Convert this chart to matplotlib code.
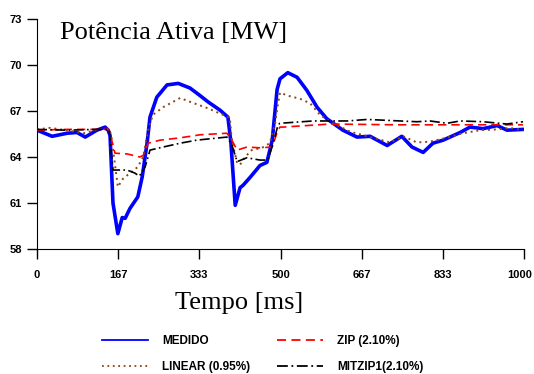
import numpy as np
import matplotlib
matplotlib.use("Agg")
import matplotlib.pyplot as plt
import matplotlib.transforms as mtransforms

# Medido
t_med = [0, 31, 62, 82, 99, 123, 140, 146, 150, 156, 166, 175, 181, 191, 207, 216, 226, 232,
         246, 267, 290, 314, 335, 351, 376, 392, 398, 407, 417, 423, 437, 458, 472, 483, 493,
         499, 515, 534, 554, 575, 595, 628, 657, 684, 719, 749, 770, 793, 813, 834, 869, 889,
         916, 945, 965, 998]
p_med = [65.75, 65.35, 65.55, 65.6, 65.3, 65.75, 65.95, 65.75, 65.4, 61.0, 59.0, 60.05, 60.0,
         60.65, 61.4, 62.7, 64.9, 66.6, 67.9, 68.7, 68.8, 68.5, 68.0, 67.6, 67.05, 66.6, 65.0,
         60.85, 62.0, 62.15, 62.65, 63.45, 63.65, 65.1, 68.4, 69.1, 69.5, 69.2, 68.35, 67.25,
         66.5, 65.75, 65.3, 65.35, 64.75, 65.35, 64.65, 64.3, 64.9, 65.1, 65.6, 65.95, 65.85,
         66.05, 65.75, 65.8]

# Linear
t_lin = [0, 27, 60, 96, 125, 146, 152, 166, 177, 191, 207, 218, 228, 238, 259, 294, 314, 349,
         382, 396, 400, 411, 417, 427, 441, 462, 478, 489, 495, 499, 515, 540, 561, 581, 602,
         643, 684, 725, 752, 780, 807, 834, 875, 910, 945, 971, 998]
p_lin = [65.8, 65.9, 65.75, 65.55, 65.8, 65.85, 65.5, 62.05, 62.6, 62.95, 63.35, 64.0, 65.75,
         66.75, 67.25, 67.85, 67.6, 67.2, 66.75, 66.55, 65.1, 63.6, 63.5, 64.0, 64.45, 64.6,
         64.9, 66.2, 67.5, 68.2, 68.0, 67.8, 67.5, 66.75, 66.3, 65.65, 65.3, 64.95, 65.35,
         64.95, 65.0, 65.2, 65.55, 65.75, 65.8, 65.9, 65.75]

# ZIP
t_zip = [0, 60, 120, 148, 160, 185, 211, 218, 228, 253, 294, 335, 390, 400, 411, 431, 458,
         483, 493, 499, 505, 602, 739, 807, 875, 998]
p_zip = [65.75, 65.8, 65.8, 65.8, 64.25, 64.2, 64.0, 64.1, 64.9, 65.1, 65.25, 65.45, 65.55,
         65.1, 64.45, 64.65, 64.6, 64.65, 65.6, 65.95, 65.95, 66.15, 66.1, 66.1, 66.1, 66.1]

# MITZIP1
t_mit = [0, 60, 120, 148, 156, 185, 201, 210, 222, 232, 259, 294, 328, 390, 400, 411, 431,
         458, 474, 485, 495, 499, 567, 637, 678, 780, 807, 842, 869, 916, 965, 998]
p_mit = [65.8, 65.75, 65.8, 65.8, 63.15, 63.15, 62.95, 62.75, 63.35, 64.45, 64.65, 64.9,
         65.1, 65.3, 64.8, 63.7, 63.95, 63.8, 63.8, 64.9, 66.1, 66.2, 66.35, 66.35, 66.45,
         66.3, 66.35, 66.2, 66.35, 66.3, 66.15, 66.3]

xticks = [0, 167, 333, 500, 667, 833, 1000]
yticks = [58, 61, 64, 67, 70, 73]

fig = plt.figure(figsize=(5.34, 3.74), dpi=100)
ax = fig.add_axes([37 / 534, 1 - 249 / 374, (524 - 37) / 534, (249 - 19) / 374])

ax.plot(t_med, p_med, color="#0000ff", lw=2.6, label="MEDIDO", zorder=2)
ax.plot(t_lin, p_lin, color="#8b4513", lw=1.4, ls=(0, (1, 2)), label="LINEAR (0.95%)", zorder=3)
ax.plot(t_zip, p_zip, color="#ff0000", lw=1.2, ls=(0, (5, 3)), label="ZIP (2.10%)", zorder=3)
ax.plot(t_mit, p_mit, color="black", lw=1.2, ls=(0, (6, 2, 1, 2)), label="MITZIP1(2.10%)", zorder=3)

ax.set_xlim(0, 1000)
ax.set_ylim(58, 73)
ax.set_xticks(xticks)
ax.set_yticks(yticks)
for s in ["top", "right"]:
    ax.spines[s].set_visible(False)
ax.tick_params(direction="out", length=7, width=1)
ax.tick_params(axis="x", pad=8)
ax.tick_params(axis="y", pad=4)
for lab in ax.get_xticklabels() + ax.get_yticklabels():
    lab.set_fontfamily("Liberation Sans")
    lab.set_fontweight("bold")
    lab.set_fontsize(8)
# keep the last x label inside the figure
last = ax.get_xticklabels()[-1]
last.set_transform(last.get_transform() + mtransforms.ScaledTranslation(-3 / 72, 0, fig.dpi_scale_trans))

ax.text(0.048, 0.985, "Potência Ativa [MW]", transform=ax.transAxes, ha="left", va="top",
        fontfamily="Liberation Serif", fontsize=19)
fig.text(0.448, 0.19, "Tempo [ms]", ha="center", va="center",
         fontfamily="Liberation Serif", fontsize=19)

leg = fig.legend(loc="lower center", bbox_to_anchor=(0.492, -0.025), ncol=2, frameon=False,
                 prop={"family": "Liberation Sans", "weight": "bold", "size": 8.5},
                 handlelength=3.9, handletextpad=1.2, columnspacing=2.3, labelspacing=1.15)
for h in leg.get_lines():
    h.set_linewidth(1.3)

fig.savefig("out.png", dpi=100)
